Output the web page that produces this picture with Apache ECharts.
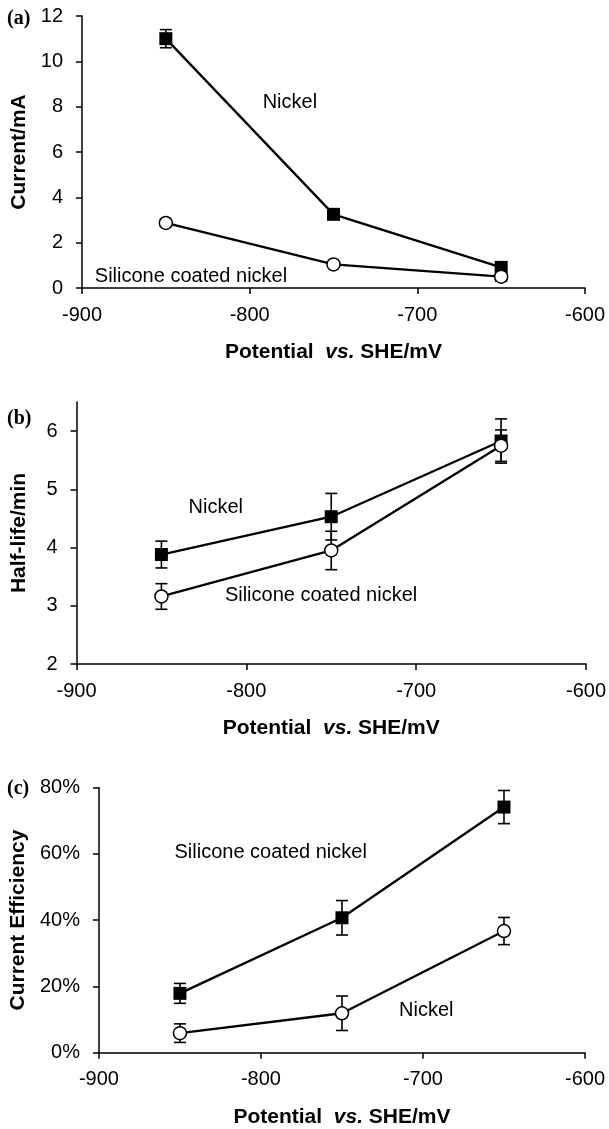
<!DOCTYPE html>
<html>
<head>
<meta charset="utf-8">
<script src="https://cdn.jsdelivr.net/npm/echarts@6/dist/echarts.min.js"></script>
<style>
html,body{margin:0;padding:0;background:#fff;}
#chart{width:609px;height:1129px;}
</style>
</head>
<body>
<div id="chart"></div>
<script>
// ---- data ----
const potentials = [-850, -750, -650];
const xTicks = [-900, -800, -700, -600];

// (a) Current / mA
const currentNickel = [11.0, 3.25, 0.91];
const currentNickelErr = [0.4, 0.15, 0.12];
const currentSilicone = [2.87, 1.04, 0.5];
const currentSiliconeErr = [0.15, 0.1, 0.2];
const currentTicks = [0, 2, 4, 6, 8, 10, 12];

// (b) Half-life / min
const halfNickel = [3.88, 4.53, 5.83];
const halfNickelErr = [0.23, 0.40, 0.38];
const halfSilicone = [3.16, 3.95, 5.75];
const halfSiliconeErr = [0.22, 0.33, 0.27];
const halfTicks = [2, 3, 4, 5, 6];

// (c) Current efficiency / %
const effFilled = [17.9, 40.7, 74.1];
const effFilledErr = [3.0, 5.2, 5.0];
const effOpen = [5.9, 11.9, 36.7];
const effOpenErr = [2.8, 5.2, 4.1];
const effTicks = [0, 20, 40, 60, 80];

// annotations: [panel, text, x, y]
const notes = [
  [0, 'Nickel', -776, 8.17],
  [0, 'Silicone coated nickel', -835, 0.53],
  [1, 'Nickel', -818, 4.69],
  [1, 'Silicone coated nickel', -756, 3.17],
  [2, 'Silicone coated nickel', -794, 60.3],
  [2, 'Nickel', -698, 12.7]
];
const panelLetters = ['(a)', '(b)', '(c)'];

// ---- layout ----
const FONT = "'Liberation Sans', Arial, sans-serif";
const grids = [
  {left: 82, top: 16, width: 503, height: 272},
  {left: 76.5, top: 402, width: 510, height: 262},
  {left: 98.5, top: 787.5, width: 486.5, height: 265.2}
];
const yCfg = [
  {min: 0, max: 12, interval: 2, ticks: currentTicks, name: 'Current/mA', gap: 52, fmt: v => v},
  {min: 2, max: 6.5, interval: 1, ticks: halfTicks, name: 'Half-life/min', gap: 47, fmt: v => v},
  {min: 0, max: 80, interval: 20, ticks: effTicks, name: 'Current Efficiency', gap: 68, fmt: v => v + '%'}
];
const letterTop = [9, 409, 779];

function pairs(ys) { return potentials.map((x, i) => [x, ys[i]]); }
function errs(ys, es) { return potentials.map((x, i) => [x, ys[i], es[i]]); }

function errSeries(idx, ys, es) {
  return {
    type: 'custom', xAxisIndex: idx, yAxisIndex: idx, z: 2,
    data: errs(ys, es),
    renderItem: function (params, api) {
      const x = api.value(0), y = api.value(1), e = api.value(2);
      const t = api.coord([x, y + e]);
      const b = api.coord([x, y - e]);
      const h = 6;
      const st = {stroke: '#000', lineWidth: 1.6};
      return {type: 'group', children: [
        {type: 'line', shape: {x1: t[0], y1: t[1], x2: b[0], y2: b[1]}, style: st},
        {type: 'line', shape: {x1: t[0] - h, y1: t[1], x2: t[0] + h, y2: t[1]}, style: st},
        {type: 'line', shape: {x1: b[0] - h, y1: b[1], x2: b[0] + h, y2: b[1]}, style: st}
      ]};
    }
  };
}
function lineSeries(idx, ys, filled) {
  return {
    type: 'line', xAxisIndex: idx, yAxisIndex: idx, z: 3,
    data: pairs(ys),
    symbol: filled ? 'rect' : 'circle',
    symbolSize: filled ? 13 : 13,
    lineStyle: {color: '#000', width: 2.3},
    itemStyle: filled ? {color: '#000', borderColor: '#000', borderWidth: 0}
                      : {color: '#fff', borderColor: '#000', borderWidth: 1.5},
    emphasis: {disabled: true},
    animation: false
  };
}

const option = {
  backgroundColor: '#fff',
  animation: false,
  title: panelLetters.map((t, i) => ({
    text: t, left: 7, top: letterTop[i], padding: 0,
    textStyle: {fontFamily: "'Liberation Serif', 'Times New Roman', serif", fontWeight: 'bold', fontSize: 20, color: '#000'}
  })),
  grid: grids.map(g => Object.assign({containLabel: false}, g)),
  xAxis: grids.map((g, i) => ({
    type: 'value', gridIndex: i, min: xTicks[0], max: xTicks[xTicks.length - 1], interval: 100,
    name: '{b|Potential  }{i|vs.}{b| SHE/mV}',
    nameLocation: 'middle', nameGap: 54,
    nameTextStyle: {rich: {
      b: {fontFamily: FONT, fontWeight: 'bold', fontSize: 21, color: '#000'},
      i: {fontFamily: FONT, fontWeight: 'bold', fontStyle: 'italic', fontSize: 21, color: '#000'}
    }},
    axisLine: {show: true, onZero: false, lineStyle: {color: '#000', width: 1.5}},
    axisTick: {show: true, length: 6, lineStyle: {color: '#000', width: 1.5}},
    axisLabel: {fontFamily: FONT, fontSize: 20, color: '#000', margin: 17},
    splitLine: {show: false}
  })),
  yAxis: yCfg.map((c, i) => ({
    type: 'value', gridIndex: i, min: c.min, max: c.max, interval: c.interval,
    name: c.name, nameLocation: 'middle', nameGap: c.gap,
    nameTextStyle: {fontFamily: FONT, fontWeight: 'bold', fontSize: 21, color: '#000'},
    axisLine: {show: true, onZero: false, lineStyle: {color: '#000', width: 1.5}},
    axisTick: {show: true, length: 6, customValues: c.ticks, lineStyle: {color: '#000', width: 1.5}},
    axisLabel: {fontFamily: FONT, fontSize: 20, color: '#000', margin: 19, customValues: c.ticks, formatter: c.fmt},
    splitLine: {show: false}
  })),
  series: [
    errSeries(0, currentNickel, currentNickelErr),
    errSeries(0, currentSilicone, currentSiliconeErr),
    lineSeries(0, currentNickel, true),
    lineSeries(0, currentSilicone, false),
    errSeries(1, halfNickel, halfNickelErr),
    errSeries(1, halfSilicone, halfSiliconeErr),
    lineSeries(1, halfNickel, true),
    lineSeries(1, halfSilicone, false),
    errSeries(2, effFilled, effFilledErr),
    errSeries(2, effOpen, effOpenErr),
    lineSeries(2, effFilled, true),
    lineSeries(2, effOpen, false)
  ].concat([0, 1, 2].map(p => ({
    type: 'scatter', xAxisIndex: p, yAxisIndex: p, z: 5,
    symbol: 'circle', symbolSize: 0.1, itemStyle: {color: '#fff', opacity: 1},
    silent: true,
    emphasis: {disabled: true},
    data: notes.filter(n => n[0] === p).map(n => ({value: [n[2], n[3]], name: n[1]})),
    label: {show: true, position: 'inside', formatter: '{b}', fontFamily: FONT, fontSize: 20,
            color: '#000', opacity: 1, textBorderWidth: 0}
  })))
};

const chart = echarts.init(document.getElementById('chart'), null, {renderer: 'canvas'});
chart.setOption(option);
</script>
</body>
</html>
